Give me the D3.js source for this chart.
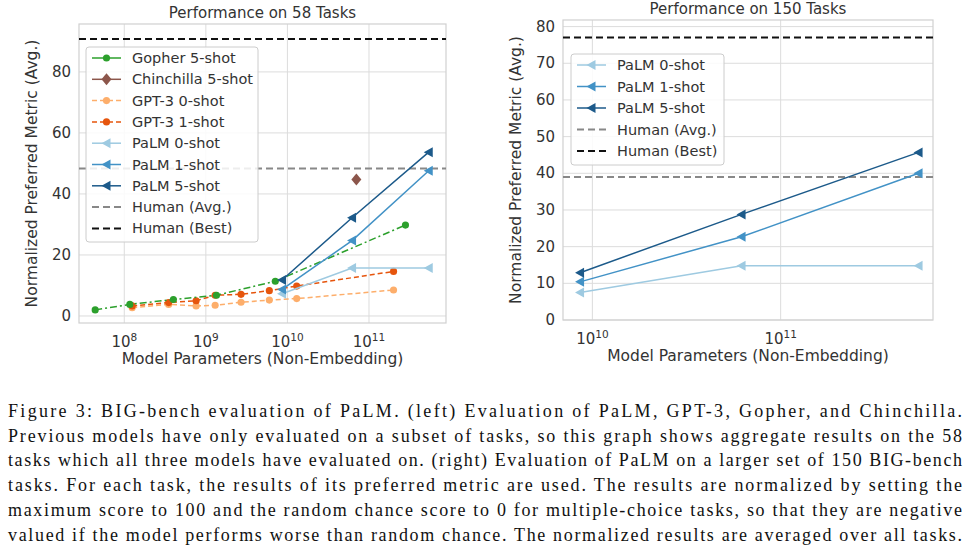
<!DOCTYPE html>
<html><head><meta charset="utf-8">
<script src="https://cdn.jsdelivr.net/npm/d3@7"></script>
<style>body{margin:0;background:#fff}</style></head>
<body><svg id="c" width="969" height="552"></svg>
<script>
// ---- data (x = parameters, y = normalized metric) ----
const gopherX = [4.4e7, 1.17e8, 4.0e8, 1.35e9, 7.1e9, 2.8e11];
const gopherY = [2.0, 3.8, 5.4, 6.8, 11.4, 29.8];
const chinchillaX = [7.0e10];
const chinchillaY = [44.7];
const gpt3X = [1.25e8, 3.5e8, 7.6e8, 1.3e9, 2.7e9, 6.0e9, 1.3e10, 2.0e11];
const gpt3_0Y = [2.7, 3.8, 3.3, 3.5, 4.5, 5.2, 5.7, 8.5];
const gpt3_1Y = [3.3, 4.4, 5.0, 6.8, 7.1, 8.3, 9.8, 14.6];
const palmX = [8.6e9, 6.2e10, 5.4e11];
const palm58_0Y = [7.3, 15.7, 15.7];
const palm58_1Y = [8.7, 24.7, 47.6];
const palm58_5Y = [11.8, 32.2, 53.7];
const human58 = {avg: 48.3, best: 90.8};
const palm150_0Y = [7.5, 14.8, 14.8];
const palm150_1Y = [10.4, 22.7, 40.0];
const palm150_5Y = [12.9, 28.8, 45.7];
const human150 = {avg: 39.0, best: 77.0};
const leftYTicks = [0, 20, 40, 60, 80];
const rightYTicks = [0, 10, 20, 30, 40, 50, 60, 70, 80];
const leftXTicks = [1e8, 1e9, 1e10, 1e11];
const rightXTicks = [1e10, 1e11];
const caption = [
 "Figure 3:  BIG-bench evaluation of PaLM. (left) Evaluation of PaLM, GPT-3, Gopher, and Chinchilla.",
 "Previous models have only evaluated on a subset of tasks, so this graph shows aggregate results on the 58",
 "tasks which all three models have evaluated on. (right) Evaluation of PaLM on a larger set of 150 BIG-bench",
 "tasks.  For each task, the results of its preferred metric are used.  The results are normalized by setting the",
 "maximum score to 100 and the random chance score to 0 for multiple-choice tasks, so that they are negative",
 "valued if the model performs worse than random chance. The normalized results are averaged over all tasks."
];

const C = {gopher:"#2ca02c", chin:"#8c564b", g0:"#fdae6b", g1:"#e6550d", p0:"#9ecae1", p1:"#4292c6", p5:"#1c5a8a"};
const svg = d3.select("#c");
const FONT = "DejaVu Sans";

function panel(o){
  const x = d3.scaleLog().domain(o.xd).range([o.l, o.r]);
  const y = d3.scaleLinear().domain(o.yd).range([o.b, o.t]);
  const g = svg.append("g");
  g.selectAll(".gx").data(o.xt).join("line").attr("x1",d=>x(d)).attr("x2",d=>x(d))
    .attr("y1",o.t).attr("y2",o.b).attr("stroke","#dcdcdc").attr("stroke-width",1);
  g.selectAll(".gy").data(o.yt).join("line").attr("y1",d=>y(d)).attr("y2",d=>y(d))
    .attr("x1",o.l).attr("x2",o.r).attr("stroke","#dcdcdc").attr("stroke-width",1);
  g.append("rect").attr("x",o.l).attr("y",o.t).attr("width",o.r-o.l).attr("height",o.b-o.t)
    .attr("fill","none").attr("stroke","#d0d0d0").attr("stroke-width",1.2);
  const tx = g.selectAll(".tx").data(o.xt).join("text").attr("x",d=>x(d)).attr("y",o.b+24)
    .attr("text-anchor","middle").attr("font-family",FONT).attr("font-size",15).attr("fill","#333");
  tx.append("tspan").text("10");
  tx.append("tspan").attr("dy",-6).attr("font-size",10.5).text(d=>Math.round(Math.log10(d)));
  g.selectAll(".ty").data(o.yt).join("text").attr("x",o.l-8).attr("y",d=>y(d)+5)
    .attr("text-anchor","end").attr("font-family",FONT).attr("font-size",15).attr("fill","#333").text(d=>d);
  g.append("text").attr("x",(o.l+o.r)/2).attr("y",o.t-6).attr("text-anchor","middle")
    .attr("font-family",FONT).attr("font-size",15).attr("fill","#333").text(o.title);
  g.append("text").attr("x",(o.l+o.r)/2).attr("y",o.b+41).attr("text-anchor","middle")
    .attr("font-family",FONT).attr("font-size",15.5).attr("fill","#333").text("Model Parameters (Non-Embedding)");
  g.append("text").attr("transform",`translate(${o.l-42},${(o.t+o.b)/2}) rotate(-90)`).attr("text-anchor","middle")
    .attr("font-family",FONT).attr("font-size",15.5).attr("fill","#333").text("Normalized Preferred Metric (Avg.)");
  g.append("line").attr("x1",o.l).attr("x2",o.r).attr("y1",y(o.human.avg)).attr("y2",y(o.human.avg))
    .attr("stroke","#888").attr("stroke-width",2).attr("stroke-dasharray","7,4");
  g.append("line").attr("x1",o.l).attr("x2",o.r).attr("y1",y(o.human.best)).attr("y2",y(o.human.best))
    .attr("stroke","#111").attr("stroke-width",2).attr("stroke-dasharray","7,4");
  const line = d3.line().x(d=>x(d[0])).y(d=>y(d[1]));
  o.series.forEach(s=>{
    const pts = s.x.map((v,i)=>[v,s.y[i]]);
    if(pts.length>1) g.append("path").attr("d",line(pts)).attr("fill","none").attr("stroke",s.c)
      .attr("stroke-width",1.5).attr("stroke-dasharray",s.dash||null);
    g.selectAll(null).data(pts).join("path").attr("transform",d=>`translate(${x(d[0])},${y(d[1])})`)
      .attr("d",marker(s.m)).attr("fill",s.c);
  });
  const L=o.leg;
  g.append("rect").attr("x",L.x).attr("y",L.y).attr("width",L.w).attr("height",L.h).attr("rx",3)
    .attr("fill","rgba(255,255,255,0.85)").attr("stroke","#ccc");
  L.items.forEach((it,i)=>{
    const yy=L.y+11+i*L.dy;
    g.append("line").attr("x1",L.x+6).attr("x2",L.x+35).attr("y1",yy).attr("y2",yy).attr("stroke",it.c)
      .attr("stroke-width",it.m?1.5:2).attr("stroke-dasharray",it.dash||null);
    if(it.m) g.append("path").attr("transform",`translate(${L.x+20.5},${yy})`).attr("d",marker(it.m)).attr("fill",it.c);
    g.append("text").attr("x",L.x+46).attr("y",yy+5).attr("font-family",FONT).attr("font-size",14.5)
      .attr("fill","#333").text(it.n);
  });
}
function marker(m){
  if(m==="o") return d3.symbol(d3.symbolCircle,40)();
  if(m==="d") return "M0,-6L5,0L0,6L-5,0Z";
  if(m==="t") return "M-5,0L4,-5L4,5Z";
  return "";
}
const dd="7,3,2,3";
panel({l:79,r:446,t:24,b:323,xd:[Math.pow(10,7.445),Math.pow(10,11.944)],yd:[-2.3,95.7],
  xt:leftXTicks,yt:leftYTicks,title:"Performance on 58 Tasks",human:human58,
  series:[
    {x:gpt3X,y:gpt3_0Y,c:C.g0,m:"o",dash:"5,3"},
    {x:gpt3X,y:gpt3_1Y,c:C.g1,m:"o",dash:"5,3"},
    {x:gopherX,y:gopherY,c:C.gopher,m:"o",dash:dd},
    {x:chinchillaX,y:chinchillaY,c:C.chin,m:"d"},
    {x:palmX,y:palm58_0Y,c:C.p0,m:"t"},
    {x:palmX,y:palm58_1Y,c:C.p1,m:"t"},
    {x:palmX,y:palm58_5Y,c:C.p5,m:"t"}],
  leg:{x:86,y:47,w:172,h:195,dy:21.3,items:[
    {n:"Gopher 5-shot",c:C.gopher,m:"o"},{n:"Chinchilla 5-shot",c:C.chin,m:"d"},
    {n:"GPT-3 0-shot",c:C.g0,m:"o",dash:"5,3"},{n:"GPT-3 1-shot",c:C.g1,m:"o",dash:"5,3"},
    {n:"PaLM 0-shot",c:C.p0,m:"t"},{n:"PaLM 1-shot",c:C.p1,m:"t"},{n:"PaLM 5-shot",c:C.p5,m:"t"},
    {n:"Human (Avg.)",c:"#888",dash:"7,4"},{n:"Human (Best)",c:"#111",dash:"7,4"}]}
});
panel({l:563,r:933,t:20,b:320,xd:[Math.pow(10,9.844),Math.pow(10,11.809)],yd:[0,81.8],
  xt:rightXTicks,yt:rightYTicks,title:"Performance on 150 Tasks",human:human150,
  series:[
    {x:palmX,y:palm150_0Y,c:C.p0,m:"t"},
    {x:palmX,y:palm150_1Y,c:C.p1,m:"t"},
    {x:palmX,y:palm150_5Y,c:C.p5,m:"t"}],
  leg:{x:571,y:54,w:153,h:111,dy:21.5,items:[
    {n:"PaLM 0-shot",c:C.p0,m:"t"},{n:"PaLM 1-shot",c:C.p1,m:"t"},{n:"PaLM 5-shot",c:C.p5,m:"t"},
    {n:"Human (Avg.)",c:"#888",dash:"7,4"},{n:"Human (Best)",c:"#111",dash:"7,4"}]}
});
svg.selectAll(".cap").data(caption).join("text").attr("x",8).attr("y",(d,i)=>417+i*24.7)
  .attr("font-family","Liberation Serif").attr("font-size",18).attr("fill","#111")
  .attr("textLength",954).attr("lengthAdjust","spacing").text(d=>d);
</script></body></html>
